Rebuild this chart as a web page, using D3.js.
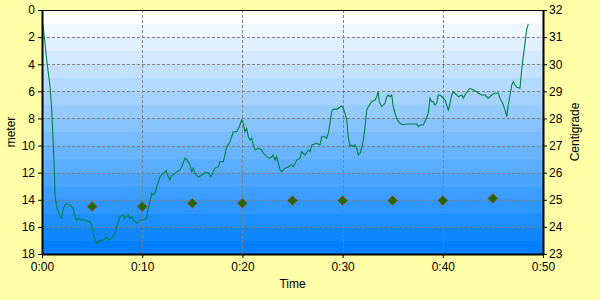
<!DOCTYPE html>
<html>
<head>
<meta charset="utf-8">
<script src="https://cdn.jsdelivr.net/npm/d3@7"></script>
<style>
  body { margin: 0; background: #ffffa8; }
  svg { display: block; font-family: "Liberation Sans", Arial, sans-serif; }
</style>
</head>
<body>
<div id="chart"></div>
<script>
// depth profile (time in minutes, depth in meters)
const timeMin = [0.07, 0.23, 0.47, 0.80, 0.97, 1.13, 1.23, 1.30, 1.47, 1.80, 1.97, 2.13, 2.30, 2.47, 2.79, 3.12, 3.29, 3.46, 3.62, 3.96,
  4.29, 4.62, 4.79, 4.96, 5.12, 5.29, 5.46, 5.79, 6.12, 6.46, 6.62, 6.96, 7.29, 7.61, 7.78, 8.11, 8.28, 8.45, 8.61, 8.78,
  8.95, 9.28, 9.45, 9.78, 10.11, 10.45, 10.61, 10.78, 10.95, 11.11, 11.28, 11.45, 11.78, 12.11, 12.38, 12.51, 12.77, 12.95, 13.10, 13.44,
  13.77, 13.94, 14.27, 14.44, 14.77, 14.94, 15.10, 15.27, 15.60, 15.94, 16.27, 16.60, 16.84, 17.10, 17.27, 17.60, 17.76, 18.09, 18.26, 18.43,
  18.76, 18.93, 19.09, 19.43, 19.69, 19.93, 20.09, 20.26, 20.43, 20.59, 20.76, 20.93, 21.09, 21.26, 21.59, 21.93, 22.09, 22.43, 22.75, 23.08,
  23.25, 23.42, 23.75, 23.92, 24.25, 24.58, 24.92, 25.08, 25.42, 25.75, 25.92, 26.25, 26.58, 26.75, 26.92, 27.41, 27.74, 27.91, 28.24, 28.41,
  28.57, 28.74, 28.91, 29.07, 29.41, 29.57, 29.91, 30.07, 30.24, 30.41, 30.57, 30.74, 30.91, 31.07, 31.24, 31.41, 31.57, 31.74, 31.91, 32.07,
  32.24, 32.41, 32.56, 32.90, 33.23, 33.40, 33.56, 33.66, 33.90, 34.23, 34.40, 34.56, 34.73, 34.90, 35.06, 35.23, 35.46, 35.73, 36.06, 36.40,
  36.90, 37.39, 37.56, 37.72, 38.05, 38.22, 38.55, 38.72, 38.89, 39.05, 39.22, 39.39, 39.55, 39.72, 40.05, 40.22, 40.55, 40.72, 40.89, 41.05,
  41.39, 41.55, 41.89, 42.05, 42.22, 42.55, 42.71, 43.04, 43.38, 43.54, 43.88, 44.21, 44.54, 44.88, 45.21, 45.54, 45.71, 45.88, 46.04, 46.21,
  46.38, 46.54, 46.71, 46.88, 47.04, 47.21, 47.38, 47.70, 47.87, 48.03, 48.20, 48.37, 48.53];
const depthM = [0.98, 1.97, 3.69, 5.66, 7.38, 10.08, 11.80, 13.77, 14.51, 15.25, 15.37, 14.63, 14.39, 14.31, 14.39, 14.63, 15.25, 15.54, 15.37, 15.49,
  15.49, 15.62, 15.62, 15.86, 16.47, 16.97, 17.21, 17.02, 16.97, 16.77, 16.97, 16.84, 16.47, 15.62, 15.25, 15.12, 15.37, 15.25, 15.12, 15.37,
  15.25, 15.62, 15.73, 15.49, 15.49, 15.37, 14.63, 14.14, 13.52, 13.65, 13.52, 13.03, 12.30, 12.05, 11.85, 12.17, 12.54, 12.17, 12.17, 11.93,
  11.80, 11.56, 10.94, 11.01, 11.43, 11.93, 11.68, 12.05, 12.34, 12.17, 12.00, 12.00, 12.30, 11.93, 11.68, 11.56, 11.19, 11.19, 10.70, 10.08,
  9.72, 9.35, 8.98, 8.98, 8.61, 8.11, 8.36, 8.98, 8.73, 9.35, 9.59, 9.46, 9.96, 10.33, 10.20, 10.33, 10.57, 10.82, 10.94, 10.70,
  11.07, 10.82, 11.80, 11.93, 11.68, 11.56, 11.43, 11.56, 11.07, 10.94, 10.45, 10.70, 10.33, 10.45, 9.96, 9.83, 9.96, 9.35, 9.35, 9.46,
  9.10, 8.36, 7.50, 7.33, 7.33, 7.25, 7.08, 7.25, 7.62, 8.11, 9.35, 10.08, 9.96, 10.08, 9.96, 10.20, 10.70, 10.57, 10.20, 9.59,
  8.61, 7.38, 7.13, 6.76, 6.64, 6.40, 6.03, 6.76, 7.13, 6.88, 6.40, 6.27, 6.40, 6.27, 7.13, 7.62, 8.11, 8.36, 8.48, 8.41,
  8.41, 8.41, 8.61, 8.48, 8.48, 8.24, 7.62, 6.51, 6.76, 6.76, 7.01, 6.88, 6.27, 6.27, 6.51, 6.64, 7.38, 6.88, 6.27, 6.03,
  6.27, 6.40, 6.27, 6.51, 6.27, 5.90, 5.78, 5.90, 6.03, 6.14, 6.27, 6.27, 6.51, 6.27, 6.14, 6.14, 6.51, 6.76, 7.01, 7.38,
  7.87, 7.01, 6.27, 5.53, 5.29, 5.53, 5.70, 5.78, 4.43, 3.44, 2.46, 1.47, 1.03];

// water temperature samples
const tempTime = [5, 10, 15, 20, 25, 30, 35, 40, 45];
const tempC = [24.75, 24.75, 24.87, 24.87, 24.97, 24.97, 24.97, 24.97, 25.05];

const timeTicks = [0, 10, 20, 30, 40, 50];
const depthTicks = [0, 2, 4, 6, 8, 10, 12, 14, 16, 18];
const tempTicks = [23, 24, 25, 26, 27, 28, 29, 30, 31, 32];

const W = 600, H = 300;
const plotL = 42, plotR = 543, plotT = 10, plotB = 254;

const svg = d3.select("#chart").append("svg")
  .attr("width", W).attr("height", H);

svg.append("rect").attr("width", W).attr("height", H).attr("fill", "#ffffa8");

const x = d3.scaleLinear().domain([0, 50]).range([plotL, plotR]);
const yDepth = d3.scaleLinear().domain([0, 18]).range([plotT, plotB]);
const yTemp = d3.scaleLinear().domain([23, 32]).range([plotB, plotT]);

// banded blue background, one band per meter
const bandColor = d3.interpolateRgb("#ffffff", "#0080ff");
const bands = d3.range(18);
svg.append("g").selectAll("rect").data(bands).enter().append("rect")
  .attr("x", plotL)
  .attr("width", plotR - plotL)
  .attr("y", d => yDepth(d))
  .attr("height", d => yDepth(d + 1) - yDepth(d) + 0.5)
  .attr("fill", d => bandColor(d / 17));

// grid
const grid = svg.append("g")
  .attr("stroke", "#808080")
  .attr("stroke-dasharray", "3,2")
  .attr("shape-rendering", "crispEdges");
grid.selectAll(".h").data(depthTicks.slice(1, -1)).enter().append("line")
  .attr("x1", plotL).attr("x2", plotR)
  .attr("y1", d => Math.round(yDepth(d)) + 0.5)
  .attr("y2", d => Math.round(yDepth(d)) + 0.5);
grid.selectAll(".v").data(timeTicks.slice(1, -1)).enter().append("line")
  .attr("y1", plotT).attr("y2", plotB)
  .attr("x1", d => Math.round(x(d)) + 0.5)
  .attr("x2", d => Math.round(x(d)) + 0.5);

// depth line
const line = d3.line()
  .x((d, i) => x(timeMin[i]))
  .y(d => yDepth(d));
svg.append("path")
  .datum(depthM)
  .attr("d", line)
  .attr("fill", "none")
  .attr("stroke", "#008040")
  .attr("stroke-width", 1.1);

// temperature diamonds
svg.append("g").selectAll("path").data(tempC).enter().append("path")
  .attr("d", d3.symbol().type(d3.symbolSquare).size(50))
  .attr("transform", (d, i) => "translate(" + x(tempTime[i]) + "," + yTemp(d) + ") rotate(45)")
  .attr("fill", "#1f6a08")
  .attr("stroke", "#a8504a")
  .attr("stroke-width", 0.9);

// plot frame top edge
svg.append("line").attr("x1", plotL).attr("x2", plotR).attr("y1", plotT + 0.5).attr("y2", plotT + 0.5)
  .attr("stroke", "#000").attr("stroke-width", 1);

// axes
const fmtTime = d => "0:" + d3.format("02d")(d);

const xAxis = svg.append("g")
  .attr("transform", "translate(0," + plotB + ")")
  .call(d3.axisBottom(x).tickValues(timeTicks).tickFormat(fmtTime).tickSize(4).tickSizeOuter(0).tickPadding(4));

const lAxis = svg.append("g")
  .attr("transform", "translate(" + plotL + ",0)")
  .call(d3.axisLeft(yDepth).tickValues(depthTicks).tickSize(4).tickSizeOuter(0).tickPadding(3));

const rAxis = svg.append("g")
  .attr("transform", "translate(" + plotR + ",0)")
  .call(d3.axisRight(yTemp).tickValues(tempTicks).tickSize(4).tickSizeOuter(0).tickPadding(2));

[xAxis, lAxis, rAxis].forEach(a => {
  a.selectAll("text").attr("font-size", 12).attr("fill", "#000")
    .attr("font-family", "'Liberation Sans', Arial, sans-serif");
  a.selectAll(".tick line").attr("stroke", "#000");
  a.select(".domain").attr("stroke", "#000").attr("stroke-width", 2);
});

// axis titles
svg.append("text")
  .attr("x", x(25)).attr("y", 288)
  .attr("text-anchor", "middle")
  .attr("font-size", 12)
  .text("Time");

svg.append("text")
  .attr("transform", "translate(15," + (plotT + plotB) / 2 + ") rotate(-90)")
  .attr("text-anchor", "middle")
  .attr("font-size", 12)
  .text("meter");

svg.append("text")
  .attr("transform", "translate(579," + (plotT + plotB) / 2 + ") rotate(-90)")
  .attr("text-anchor", "middle")
  .attr("font-size", 12)
  .text("Centigrade");
</script>
</body>
</html>
